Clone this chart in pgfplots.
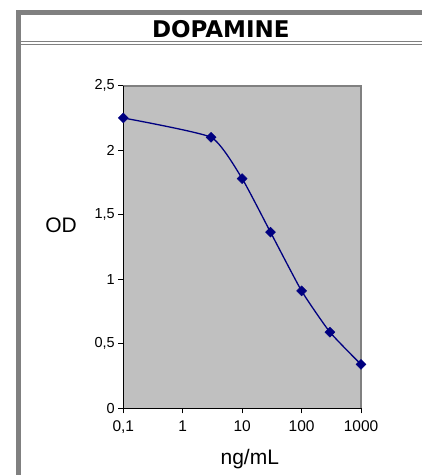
\documentclass[border=0pt]{standalone}
\usepackage{fontspec}
\setmainfont{Liberation Sans}
\newfontfamily\titlefont{DejaVu Sans}
\usepackage{pgfplots}
\pgfplotsset{compat=1.18}
\definecolor{framegray}{RGB}{128,128,128}
\definecolor{plotgray}{RGB}{192,192,192}
\definecolor{navyline}{RGB}{0,0,128}
\begin{document}
\begin{tikzpicture}
\path[use as bounding box] (0,0) rectangle (422pt,475pt);
% frame
\fill[framegray] (16pt,0pt) rectangle (21pt,465pt);
\fill[framegray] (16pt,460pt) rectangle (422pt,465pt);
\fill[framegray] (18pt,432.7pt) rectangle (422pt,434pt);
\fill[framegray] (18pt,430pt) rectangle (422pt,431.3pt);
\node[inner sep=0pt, anchor=center] at (220.8pt,446.3pt) {\titlefont\bfseries\fontsize{23}{23}\selectfont DOPAMINE};
\begin{axis}[
  at={(123.3pt,66.7pt)}, anchor=south west,
  scale only axis, width=237.7pt, height=322.6pt,
  xmode=log, xmin=0.1, xmax=1000,
  ymin=0, ymax=2.5,
  xtick={0.1,1,10,100,1000},
  xticklabels={{0,1},1,10,100,1000},
  ytick={0,0.5,1,1.5,2,2.5},
  yticklabels={0,{0,5},1,{1,5},2,{2,5}},
  xminorticks=false, yminorticks=false,
  tick pos=left, tick align=outside,
  major tick length=5pt,
  tick style={black, line width=0.8pt},
  axis line style={draw=none},
  axis background/.style={fill=plotgray},
  x tick label style={font=\fontsize{15.5}{15.5}\selectfont, yshift=-4pt},
  y tick label style={font=\fontsize{14.5}{14.5}\selectfont},
  xlabel={ng/mL},
  ylabel={OD},
  xlabel style={font=\fontsize{21}{21}\selectfont, at={(rel axis cs:0.532,-0.158)}, anchor=center},
  ylabel style={font=\fontsize{21}{21}\selectfont, at={(rel axis cs:-0.262,0.568)}, rotate=-90, anchor=center},
  clip=false,
]
\draw[framegray, line width=2pt] (rel axis cs:0,1) -- (rel axis cs:1,1) -- (rel axis cs:1,0);
\draw[black, line width=0.9pt] (rel axis cs:0,1) -- (rel axis cs:0,0) -- (rel axis cs:1,0);
\addplot[navyline, line width=1.3pt, smooth, tension=0.3, mark=square*, mark size=3.5pt,
  mark options={rotate=45, fill=navyline, draw=navyline, line width=0.5pt}]
  coordinates {
  (0.1,2.25) (3,2.10) (10,1.78) (30,1.365) (100,0.91) (300,0.59) (1000,0.34)
  };
\end{axis}
\end{tikzpicture}
\end{document}
